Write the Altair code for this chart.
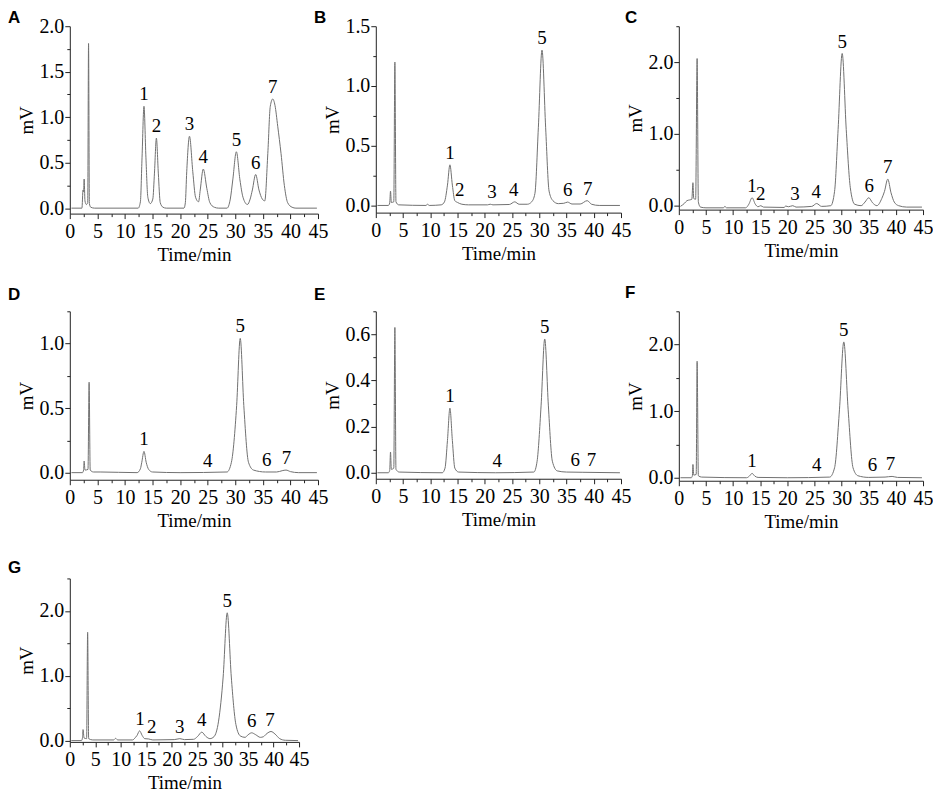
import altair as alt
import pandas as pd

# ---------------- data (time in min, signal in mV) ----------------
A_t = [0.3, 2.2, 2.4, 2.5, 2.6, 2.75, 3.0, 3.25, 3.4, 3.55, 3.8, 4.5, 12.4, 12.8, 13.1, 13.45, 13.8, 14.15, 14.6, 15.05,
       15.35, 15.7, 16.05, 16.4, 16.9, 17.5, 20.7, 20.95, 21.2, 21.7, 22.3, 22.8, 23.35, 23.65, 24.2, 24.85, 25.4, 26.2, 27.0, 28.5,
       29.1, 29.55, 30.2, 30.85, 31.4, 32.2, 32.7, 33.1, 33.7, 34.3, 34.9, 35.35, 35.9, 36.35, 36.8, 37.2, 37.7, 38.3, 38.9, 39.5,
       40.3, 41.0, 44.8]
A_v = [0.0, 0.0, 0.2, 0.18, 0.32, 0.08, 0.04, 0.06, 1.81, 0.05, 0.01, 0.0, 0.0, 0.07, 0.56, 1.12, 0.56, 0.12, 0.05, 0.1,
       0.385, 0.77, 0.385, 0.06, 0.01, 0.0, 0.0, 0.06, 0.4, 0.79, 0.4, 0.12, 0.07, 0.2, 0.43, 0.215, 0.06, 0.01, 0.0, 0.0,
       0.1, 0.31, 0.62, 0.31, 0.12, 0.04, 0.1, 0.2, 0.37, 0.2, 0.1, 0.08, 0.6, 1.12, 1.2, 1.13, 0.9, 0.6, 0.25, 0.06,
       0.01, 0.0, 0.0]
A_pk_t = [13.45, 15.7, 21.7, 24.2, 30.2, 33.7, 36.8]
A_pk_v = [1.12, 0.77, 0.79, 0.43, 0.62, 0.37, 1.2]
A_pk = ["1", "2", "3", "4", "5", "6", "7"]

B_t = [0.3, 2.3, 2.55, 2.7, 2.85, 3.3, 3.5, 3.7, 4.2, 9.2, 9.5, 9.8, 12.0, 12.6, 13.15, 13.6, 14.05, 14.5, 15.0, 15.8,
       17.0, 20.5, 21.0, 21.5, 24.5, 25.5, 26.3, 27.8, 28.6, 29.2, 29.83, 30.5, 31.17, 31.8, 32.5, 33.5, 34.5, 35.2, 36.0, 37.5,
       38.8, 39.6, 41.0, 44.8]
B_v = [0.0, 0.0, 0.02, 0.12, 0.025, 0.03, 1.2, 0.03, 0.005, 0.0, 0.01, 0.0, 0.005, 0.03, 0.17, 0.34, 0.17, 0.04, 0.025, 0.01,
       0.005, 0.005, 0.01, 0.005, 0.008, 0.03, 0.01, 0.01, 0.03, 0.1, 0.65, 1.3, 0.65, 0.12, 0.04, 0.015, 0.018, 0.028, 0.012, 0.012,
       0.04, 0.01, 0.0, 0.0]
B_pk_t = [13.6, 15.4, 21.3, 25.3, 30.5, 35.2, 38.9]
B_pk_v = [0.34, 0.025, 0.01, 0.03, 1.3, 0.028, 0.04]
B_pk = ["1", "2", "3", "4", "5", "6", "7"]

C_t = [0.3, 1.0, 1.5, 2.0, 2.4, 2.6, 2.75, 3.1, 3.37, 3.6, 4.0, 5.0, 8.2, 8.5, 8.8, 12.3, 12.9, 13.5, 14.1, 14.6,
       15.1, 15.6, 19.4, 19.7, 20.2, 21.0, 21.6, 24.5, 25.4, 26.3, 28.0, 28.7, 29.35, 30.1, 30.85, 31.6, 32.4, 33.6, 34.3, 35.0,
       35.7, 36.5, 37.4, 37.9, 38.5, 39.1, 39.7, 40.5, 42.0, 44.8]
C_v = [-0.01, 0.03, 0.07, 0.08, 0.09, 0.32, 0.1, 0.09, 2.05, 0.05, -0.02, -0.03, -0.03, -0.01, -0.03, -0.03, 0.02, 0.11, 0.02, -0.015,
       0.0, -0.02, -0.025, -0.005, -0.015, 0.0, -0.02, -0.01, 0.03, -0.01, 0.0, 0.2, 1.06, 2.12, 1.06, 0.25, 0.02, 0.0, 0.05, 0.11,
       0.04, 0.0, 0.1, 0.2, 0.37, 0.18, 0.05, 0.0, -0.02, -0.02]
C_pk_t = [13.5, 15.1, 21.4, 25.3, 30.1, 35.1, 38.5]
C_pk_v = [0.11, 0.0, 0.0, 0.03, 2.12, 0.11, 0.37]
C_pk = ["1", "2", "3", "4", "5", "6", "7"]

D_t = [0.3, 2.3, 2.5, 2.6, 2.75, 3.3, 3.5, 3.7, 4.3, 5.5, 12.2, 12.8, 13.05, 13.45, 13.85, 14.3, 15.0, 20.0, 28.5, 29.3,
       30.25, 30.9, 31.55, 32.4, 33.3, 35.5, 37.5, 38.5, 39.2, 40.0, 41.5, 44.8]
D_v = [0.0, 0.0, 0.02, 0.09, 0.02, 0.025, 0.70, 0.02, 0.005, 0.005, 0.0, 0.03, 0.08, 0.165, 0.08, 0.025, 0.005, 0.0, 0.005, 0.08,
       0.52, 1.04, 0.52, 0.08, 0.02, 0.005, 0.005, 0.015, 0.02, 0.008, 0.0, 0.0]
D_pk_t = [13.45, 25.0, 30.9, 35.7, 39.3]
D_pk_v = [0.165, 0.0, 1.04, 0.005, 0.02]
D_pk = ["1", "4", "5", "6", "7"]

E_t = [0.3, 2.3, 2.55, 2.7, 2.85, 3.3, 3.5, 3.7, 4.3, 12.2, 12.7, 13.15, 13.6, 14.05, 14.5, 15.2, 22.0, 29.0, 29.6, 30.33,
       31.0, 31.67, 32.4, 33.3, 35.0, 38.0, 44.8]
E_v = [0.0, 0.0, 0.01, 0.09, 0.015, 0.02, 0.63, 0.015, 0.003, 0.0, 0.02, 0.14, 0.28, 0.14, 0.02, 0.003, 0.0, 0.003, 0.05, 0.29,
       0.58, 0.29, 0.05, 0.008, 0.003, 0.002, 0.0]
E_pk_t = [13.6, 22.3, 31.0, 36.6, 39.6]
E_pk_v = [0.28, 0.0, 0.58, 0.003, 0.002]
E_pk = ["1", "4", "5", "6", "7"]

F_t = [0.3, 2.3, 2.5, 2.6, 2.75, 3.2, 3.37, 3.6, 4.2, 12.5, 13.0, 13.5, 14.0, 14.6, 20.0, 27.8, 28.7, 29.6, 30.4, 31.2,
       32.1, 33.0, 35.0, 38.0, 39.3, 40.3, 44.8]
F_v = [0.0, 0.0, 0.03, 0.2, 0.04, 0.05, 1.75, 0.03, 0.01, 0.0, 0.025, 0.065, 0.025, 0.005, 0.0, 0.01, 0.15, 1.02, 2.04, 1.02,
       0.15, 0.03, 0.005, 0.01, 0.02, 0.005, 0.0]
F_pk_t = [13.5, 25.4, 30.4, 35.7, 39.0]
F_pk_v = [0.065, 0.005, 2.04, 0.005, 0.02]
F_pk = ["1", "4", "5", "6", "7"]

G_t = [0.3, 2.3, 2.5, 2.6, 2.8, 3.3, 3.5, 3.7, 4.5, 8.6, 9.0, 9.4, 12.3, 12.9, 13.2, 13.7, 14.2, 14.7, 15.5, 16.3,
       20.5, 21.6, 22.5, 24.3, 25.1, 25.9, 26.7, 27.5, 28.3, 29.2, 30.1, 30.9, 31.7, 32.6, 33.5, 34.4, 35.0, 35.7, 36.5, 37.4,
       38.0, 38.7, 39.5, 40.3, 41.2, 42.3, 44.8]
G_v = [0.0, 0.0, 0.05, 0.17, 0.04, 0.03, 1.67, 0.03, 0.01, 0.01, 0.035, 0.01, 0.01, 0.05, 0.08, 0.15, 0.08, 0.03, 0.025, 0.01,
       0.015, 0.03, 0.015, 0.02, 0.065, 0.13, 0.065, 0.03, 0.06, 0.3, 0.98, 1.97, 0.98, 0.25, 0.07, 0.05, 0.09, 0.12, 0.09, 0.05,
       0.06, 0.11, 0.14, 0.1, 0.03, 0.005, 0.0]
G_pk_t = [13.8, 16.1, 21.6, 25.9, 30.9, 35.7, 39.3]
G_pk_v = [0.15, 0.02, 0.03, 0.13, 1.97, 0.12, 0.14]
G_pk = ["1", "2", "3", "4", "5", "6", "7"]

X_TICKS = [0, 2.5, 5, 7.5, 10, 12.5, 15, 17.5, 20, 22.5, 25, 27.5, 30, 32.5, 35, 37.5, 40, 42.5, 45]

# ---------------- styling ----------------
SERIF = "Liberation Serif"
SANS = "Liberation Sans"
TRACE = "#707070"
AXC = "#222222"


def panel(letter, t, v, pk_t, pk_v, pk_n, ymin, ymax, minor, major, w, h, lx, ly):
    line_df = pd.DataFrame({"t": t, "v": v})
    lab_df = pd.DataFrame({"t": pk_t, "v": pk_v, "n": pk_n})
    xs = alt.Scale(domain=[0, 45], nice=False, zero=False)
    ys = alt.Scale(domain=[ymin, ymax], nice=False, zero=False)
    n_y = int(round(ymax / minor))
    y_ticks = [round(i * minor, 4) for i in range(n_y + 1)]
    xmaj = "datum.value % 5 === 0"
    ymaj = f"abs(datum.value / {major} - round(datum.value / {major})) < 0.001"
    xaxis = alt.Axis(
        values=X_TICKS, title="Time/min", grid=False, labelFlush=False, labelOverlap=False,
        labelExpr=f"{xmaj} ? format(datum.value, 'd') : ''",
        tickSize={"condition": {"test": xmaj, "value": 5}, "value": 3},
        labelPadding=3, titlePadding=4,
    )
    yaxis = alt.Axis(
        values=y_ticks, title="mV", grid=False, labelOverlap=False,
        labelExpr=f"{ymaj} ? format(datum.value, '.1f') : ''",
        tickSize={"condition": {"test": ymaj, "value": 5}, "value": 3},
        labelPadding=1, titlePadding=2,
    )
    X = alt.X("t:Q", scale=xs, axis=xaxis, title="Time/min")
    Y = alt.Y("v:Q", scale=ys, axis=yaxis, title="mV")
    line = alt.Chart(line_df).mark_line(color=TRACE, strokeWidth=1, interpolate="monotone").encode(x=X, y=Y)
    labs = alt.Chart(lab_df).mark_text(font=SERIF, fontSize=19, baseline="bottom", dy=-2, color="black").encode(
        x=X, y=Y, text="n:N",
    )
    let = alt.Chart(pd.DataFrame({"l": [letter]})).mark_text(
        font=SANS, fontWeight="bold", fontSize=17, align="left", baseline="alphabetic", color="black"
    ).encode(x=alt.value(lx), y=alt.value(ly), text="l:N")
    return alt.layer(line, labs, let).properties(width=w, height=h)


pA = panel("A", A_t, A_v, A_pk_t, A_pk_v, A_pk, -0.06, 2.0, 0.25, 0.5, 249, 188, -62, -3)
pB = panel("B", B_t, B_v, B_pk_t, B_pk_v, B_pk, -0.06, 1.5, 0.25, 0.5, 246, 187, -62, -3)
pC = panel("C", C_t, C_v, C_pk_t, C_pk_v, C_pk, -0.055, 2.5, 0.5, 1.0, 245, 184, -54, -3)
pD = panel("D", D_t, D_v, D_pk_t, D_pk_v, D_pk, -0.055, 1.25, 0.25, 0.5, 249, 169, -62, -11)
pE = panel("E", E_t, E_v, E_pk_t, E_pk_v, E_pk, -0.026, 0.7, 0.1, 0.2, 246, 168, -62, -11)
pF = panel("F", F_t, F_v, F_pk_t, F_pk_v, F_pk, -0.045, 2.5, 0.5, 1.0, 245, 170, -54, -13)
pG = panel("G", G_t, G_v, G_pk_t, G_pk_v, G_pk, -0.02, 2.5, 0.5, 1.0, 230, 164, -62, -5)

chart = alt.concat(
    pA, pB, pC, pD, pE, pF, pG,
    columns=3, spacing={"row": 98, "column": 58}, bounds="flush",
).properties(
    padding=0,
).configure_view(
    stroke=None,
).configure_axis(
    domainColor=AXC, tickColor=AXC, domainWidth=1, tickWidth=1,
    labelFont=SERIF, labelFontSize=20, labelColor="black",
    titleFont=SERIF, titleFontSize=19, titleFontWeight="normal", titleColor="black",
)

chart.save("out.html", embed_options={"renderer": "svg", "actions": False})
